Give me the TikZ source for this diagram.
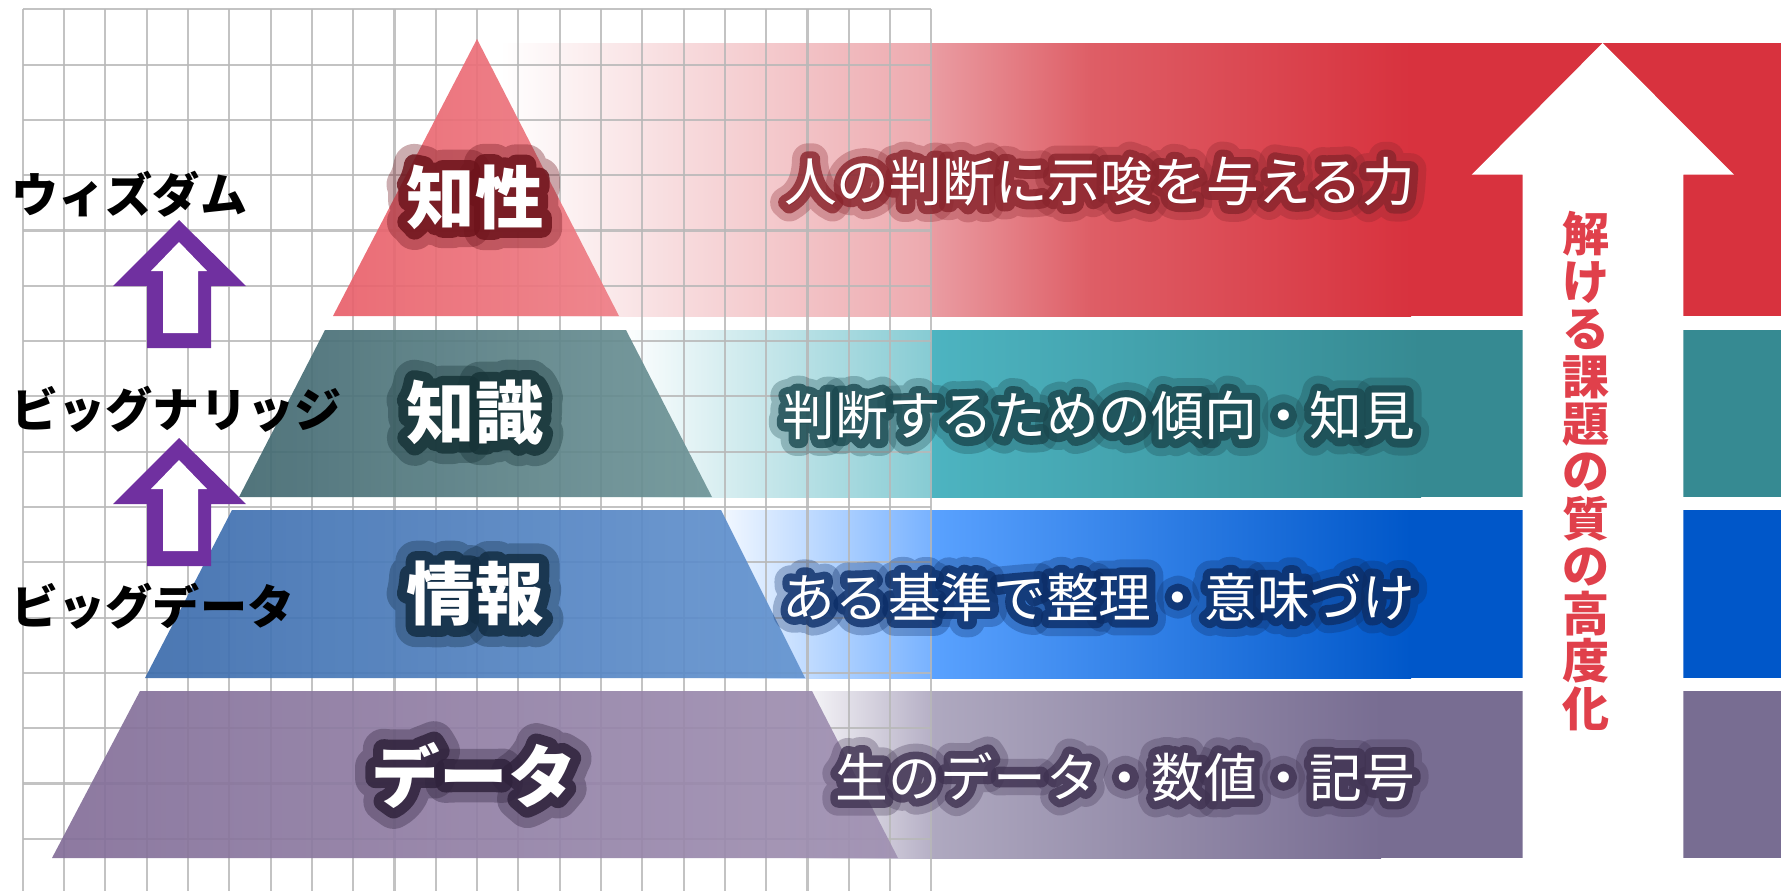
\documentclass[tikz,border=0pt]{standalone}
\usepackage{fontspec}
\newfontfamily\jpfont{Noto Sans CJK JP}
\newfontfamily\jpglow{Noto Sans CJK JP}[FakeBold=30]
\newfontfamily\jpglowwide{Noto Sans CJK JP}[FakeBold=60]
\usepackage{xcolor}

\definecolor{redR}{HTML}{D8323E}
\definecolor{redM}{HTML}{EA9DA3}
\definecolor{redN}{HTML}{DE5E66}
\definecolor{redL}{HTML}{EDA9AE}
\definecolor{tealL}{HTML}{86CBD3}
\definecolor{tealM}{HTML}{4DB4C1}
\definecolor{tealR}{HTML}{368A92}
\definecolor{blueL}{HTML}{78B2FF}
\definecolor{blueM}{HTML}{5AA2FF}
\definecolor{blueR}{HTML}{0057C9}
\definecolor{purpL}{HTML}{B6B0C6}
\definecolor{purpM}{HTML}{AFA9C0}
\definecolor{purpR}{HTML}{786D92}
\definecolor{redP1}{HTML}{E8606A}
\definecolor{redP2}{HTML}{EE7E86}
\definecolor{tealP1}{HTML}{426870}
\definecolor{tealP2}{HTML}{6F9598}
\definecolor{blueP1}{HTML}{3C6CAC}
\definecolor{blueP2}{HTML}{6494D0}
\definecolor{purpP1}{HTML}{836E98}
\definecolor{purpP2}{HTML}{A091B2}
\definecolor{glowRed}{HTML}{6E141C}
\definecolor{glowTeal}{HTML}{173438}
\definecolor{glowBlue}{HTML}{132E45}
\definecolor{glowPurp}{HTML}{30233D}
\definecolor{glowRedB}{HTML}{8A252D}
\definecolor{glowTealB}{HTML}{1B4950}
\definecolor{glowBlueB}{HTML}{0C2E68}
\definecolor{glowPurpB}{HTML}{403352}
\definecolor{arrowPurple}{HTML}{7030A0}
\definecolor{arrowText}{HTML}{E0404B}

\tikzset{
  gridline/.style={draw=black!28, line width=0.6pt, opacity=0.85},
  layer/.style={fill opacity=0.92},
  title/.style={font={\jpfont\bfseries\fontsize{19.5}{20}\selectfont}, text=white, inner sep=0pt},
  titleglow/.style={font={\jpglow\bfseries\fontsize{19.5}{20}\selectfont}, inner sep=0pt, line join=round, text opacity=0.85},
  titlehalo/.style={font={\jpglowwide\bfseries\fontsize{19.5}{20}\selectfont}, inner sep=0pt, line join=round, text opacity=0.35},
  desc/.style={font={\jpfont\fontsize{15}{16}\selectfont}, text=white, inner sep=0pt, anchor=east},
  descglow/.style={font={\jpglow\fontsize{15}{16}\selectfont}, inner sep=0pt, anchor=east, line join=round, text opacity=0.8},
  deschalo/.style={font={\jpglowwide\fontsize{15}{16}\selectfont}, inner sep=0pt, anchor=east, line join=round, text opacity=0.3},
  side/.style={font={\jpfont\bfseries\fontsize{13.4}{14}\selectfont}, text=black, inner sep=0pt, anchor=west},
}

\begin{document}
\begin{tikzpicture}[x=0.1mm, y=-0.1mm]
  \useasboundingbox (0,0) rectangle (1785,891);

  % bands
  \shade[left color=white, right color=redL] (500,43) rectangle (931,316);
  \shade[left color=redM, right color=redN] (930,43) rectangle (1091,316);
  \shade[left color=redN, right color=redR] (1090,43) rectangle (1411,316);
  \fill[redR] (1410,43) rectangle (1781,316);

  \shade[left color=white, right color=tealL] (620,330) rectangle (931,497);
  \shade[left color=tealM, right color=tealR] (930,330) rectangle (1421,497);
  \fill[tealR] (1420,330) rectangle (1781,497);

  \shade[left color=white, right color=blueL] (700,510) rectangle (931,678);
  \shade[left color=blueM, right color=blueR] (930,510) rectangle (1411,678);
  \fill[blueR] (1410,510) rectangle (1781,678);

  \shade[left color=white, right color=purpL] (790,691) rectangle (931,858);
  \shade[left color=purpM, right color=purpR] (930,691) rectangle (1381,858);
  \fill[purpR] (1380,691) rectangle (1781,858);

  % grid
  \foreach \i in {0,...,22}
    \draw[gridline] (22.8+41.3*\i, 9.3) -- (22.8+41.3*\i, 891);
  \foreach \j in {0,...,15}
    \draw[gridline] (22.8, 9.3+55.3*\j) -- (931, 9.3+55.3*\j);

  % pyramid
  \shade[layer, left color=redP1, right color=redP2] (477,39) -- (619,316) -- (333,316) -- cycle;
  \shade[layer, left color=tealP1, right color=tealP2] (325,330) -- (626,330) -- (712,497) -- (239,497) -- cycle;
  \shade[layer, left color=blueP1, right color=blueP2] (232,510) -- (721,510) -- (805,678) -- (145,678) -- cycle;
  \shade[layer, left color=purpP1, right color=purpP2] (140,691) -- (812,691) -- (898,858) -- (52,858) -- cycle;

  % big white arrow
  \fill[white] (1522.5,860) -- (1522.5,174.7) -- (1471.7,174.7) -- (1602.6,43)
    -- (1734,174.7) -- (1683.3,174.7) -- (1683.3,860) -- cycle;
  \node[font={\jpfont\bfseries\fontsize{13.4}{13.5}\selectfont}, text=arrowText, align=center, inner sep=0pt]
    (quality) at (1586,471) {解\\け\\る\\課\\題\\の\\質\\の\\高\\度\\化};

  % purple up arrows
  \foreach \dy in {0,218} {
    \begin{scope}[shift={(0,\dy)}]
      \fill[arrowPurple] (179,220) -- (246,286) -- (211,286) -- (211,348) -- (147,348) -- (147,286) -- (113,286) -- cycle;
      \fill[white] (179,242) -- (207,271) -- (198,271) -- (198,333) -- (163,333) -- (163,271) -- (151,271) -- cycle;
    \end{scope}
  }

  % side labels
  \node[side] (wisdom) at (11,194) {ウィズダム};
  \node[side] (bigknow) at (11,409) {ビッグナリッジ};
  \node[side] (bigdata) at (11,606) {ビッグデータ};

  % pyramid labels
  \node[titlehalo, text=glowRed] (chiseihalo) at (475,197) {知性};
  \node[titleglow, text=glowRed] (chiseiglow) at (475,197) {知性};
  \node[title] (chisei) at (475,197) {知性};
  \node[titlehalo, text=glowTeal] (chishikihalo) at (475,413) {知識};
  \node[titleglow, text=glowTeal] (chishikiglow) at (475,413) {知識};
  \node[title] (chishiki) at (475,413) {知識};
  \node[titlehalo, text=glowBlue] (johohalo) at (475,594) {情報};
  \node[titleglow, text=glowBlue] (johoglow) at (475,594) {情報};
  \node[title] (joho) at (475,594) {情報};
  \node[titlehalo, text=glowPurp] (datahalo) at (474,775) {データ};
  \node[titleglow, text=glowPurp] (dataglow) at (474,775) {データ};
  \node[title] (data) at (474,775) {データ};

  % band descriptions
  \node[deschalo, text=glowRedB] (d1halo) at (1416,182) {人の判断に示唆を与える力};
  \node[descglow, text=glowRedB] (d1glow) at (1416,182) {人の判断に示唆を与える力};
  \node[desc] (d1) at (1416,182) {人の判断に示唆を与える力};
  \node[deschalo, text=glowTealB] (d2halo) at (1416,416) {判断するための傾向・知見};
  \node[descglow, text=glowTealB] (d2glow) at (1416,416) {判断するための傾向・知見};
  \node[desc] (d2) at (1416,416) {判断するための傾向・知見};
  \node[deschalo, text=glowBlueB] (d3halo) at (1416,597) {ある基準で整理・意味づけ};
  \node[descglow, text=glowBlueB] (d3glow) at (1416,597) {ある基準で整理・意味づけ};
  \node[desc] (d3) at (1416,597) {ある基準で整理・意味づけ};
  \node[deschalo, text=glowPurpB] (d4halo) at (1416,777) {生のデータ・数値・記号};
  \node[descglow, text=glowPurpB] (d4glow) at (1416,777) {生のデータ・数値・記号};
  \node[desc] (d4) at (1416,777) {生のデータ・数値・記号};
\end{tikzpicture}
\end{document}
